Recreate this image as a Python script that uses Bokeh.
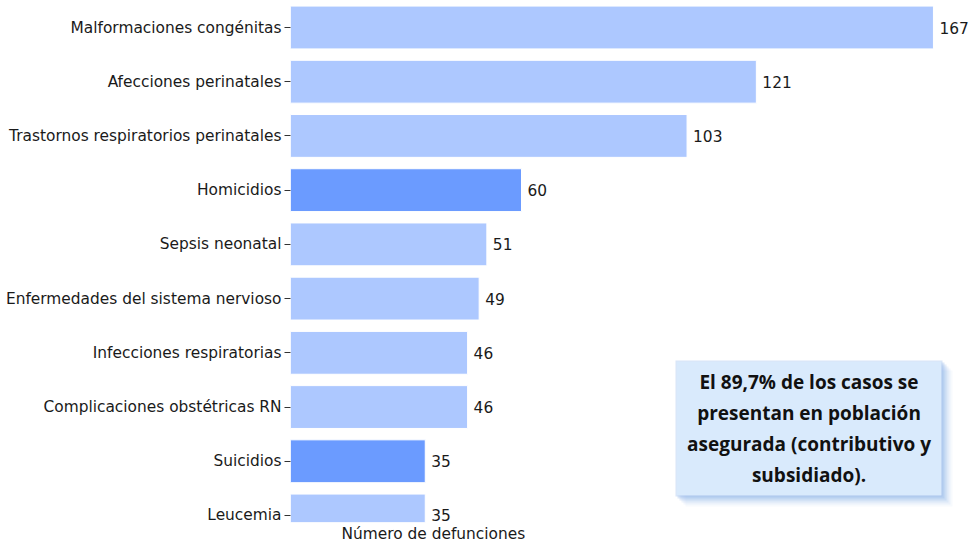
from bokeh.plotting import figure
from bokeh.models import FixedTicker, Range1d, Label, BoxAnnotation, ColumnDataSource
from bokeh.core.properties import value
from bokeh.embed import file_html
from bokeh.resources import INLINE

# ---- data ----
categories = [
    "Malformaciones congénitas",
    "Afecciones perinatales",
    "Trastornos respiratorios perinatales",
    "Homicidios",
    "Sepsis neonatal",
    "Enfermedades del sistema nervioso",
    "Infecciones respiratorias",
    "Complicaciones obstétricas RN",
    "Suicidios",
    "Leucemia",
]
deaths = [167, 121, 103, 60, 51, 49, 46, 46, 35, 35]
highlight = [False, False, False, True, False, False, False, False, True, False]
x_label = "Número de defunciones"
note_lines = [
    "El 89,7% de los casos se",
    "presentan en población",
    "asegurada (contributivo y",
    "subsidiado).",
]

LIGHT = "#adc8ff"
DARK = "#6b9bff"
FONT = "DejaVu Sans"
FS = "15.4px"

OX, OY = 0, 1
W, H = 969, 545
frame_left = 290 - OX
frame_bottom_border = H - (523 - OY)
frame_w = W - frame_left
frame_h = H - frame_bottom_border

px_x = 3.85               # px per unit (x)
x_end = frame_w / px_x
px_y = 54.22
y_top = (28 - OY) / px_y
y_bottom = y_top - frame_h / px_y

def sx(px):
    return (px - OX - frame_left) / px_x

def sy(py):
    return y_top - (py - OY) / px_y

ypos = [-i for i in range(len(categories))]
colors = [DARK if h else LIGHT for h in highlight]
src = ColumnDataSource(dict(y=ypos, v=deaths, c=colors,
                            t=[str(d) for d in deaths]))

p = figure(width=W, height=H, output_backend="svg", toolbar_location=None,
           x_range=Range1d(0, x_end), y_range=Range1d(y_bottom, y_top),
           min_border_left=frame_left, min_border_right=0,
           min_border_top=0, min_border_bottom=frame_bottom_border,
           title=x_label, title_location="below")
p.outline_line_color = None
p.background_fill_color = "white"
p.border_fill_color = "white"
p.xgrid.visible = False
p.ygrid.visible = False
p.xaxis.visible = False

p.title.align = "left"
p.title.offset = 341 - 290
p.title.text_font = FONT
p.title.text_font_style = "normal"
p.title.text_font_size = FS
p.title.text_color = "#1a1a1a"
p.title.standoff = 0

p.hbar(y="y", right="v", left=0, height=0.79, fill_color="c",
       line_color="white", line_width=1, source=src)
p.text(x="v", y="y", text="t", source=src, x_offset=6,
       text_baseline="middle", text_align="left",
       text_font=value(FONT), text_font_size=FS, text_color="#1a1a1a")

ya = p.yaxis[0]
ya.ticker = FixedTicker(ticks=ypos)
ya.major_label_overrides = {y: c for y, c in zip(ypos, categories)}
ya.axis_line_color = None
ya.major_tick_in = 0
ya.major_tick_out = 6
ya.major_tick_line_color = "#333333"
ya.minor_tick_line_color = None
ya.major_label_standoff = 3
ya.major_label_text_font = FONT
ya.major_label_text_font_size = FS
ya.major_label_text_color = "#1a1a1a"

# annotation box with a soft blue shadow
bl, br, bt, bb = sx(676), sx(941), sy(362), sy(496)
for k, a in [(11, 0.07), (9, 0.10), (7, 0.15), (5, 0.22), (3, 0.30), (1, 0.35)]:
    p.add_layout(BoxAnnotation(left=bl + (k - 2) / px_x, right=br + k / px_x,
                               top=bt - (k - 2) / px_y, bottom=bb - k / px_y,
                               fill_color="#8fb3e8", fill_alpha=a,
                               line_color=None, level="overlay"))
p.add_layout(BoxAnnotation(left=bl, right=br, top=bt, bottom=bb,
                           fill_color="#d9eafc", fill_alpha=1.0,
                           line_color=None, level="overlay"))
cx = (bl + br) / 2
cy = (bt + bb) / 2
spacing = 31 / px_y
for i, line in enumerate(note_lines):
    p.add_layout(Label(x=cx, y=cy + (1.5 - i) * spacing, text=line,
                       text_align="center", text_baseline="middle",
                       text_font="Open Sans", text_font_style="bold",
                       text_font_size="19px", text_color="#111111",
                       level="overlay"))

open("out.html", "w").write(file_html(p, INLINE))
